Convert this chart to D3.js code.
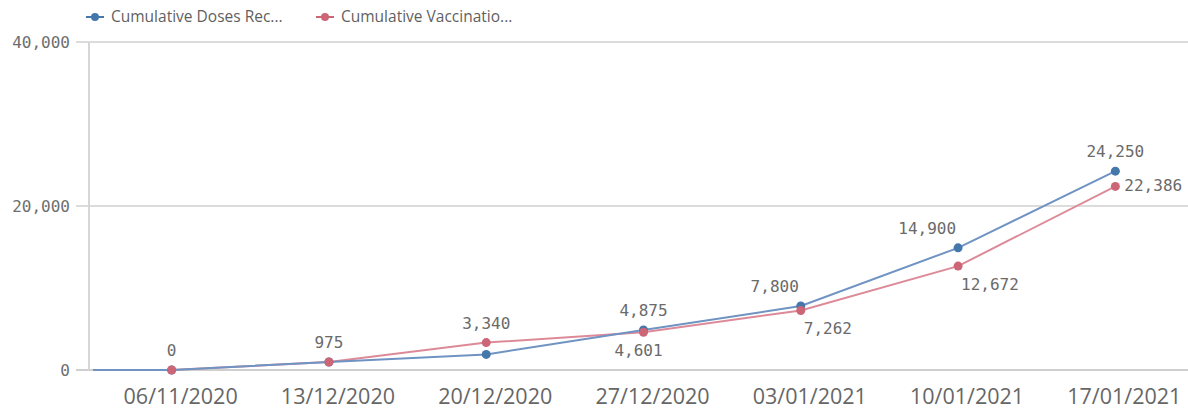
<!DOCTYPE html>
<html lang="en">
    <head>
        <title>Cumulative doses</title>
        <meta charset="UTF-8">
        <script src="https://cdn.jsdelivr.net/npm/d3@7"></script>
        <style>
        body{ margin:0; background:#fff; }
        .grid line{ stroke:#dcdcdc; stroke-width:2px; }
        .grid line.zero{ stroke:#cfcfcf; }
        .axis-y{ stroke:#d6d6d6; stroke-width:2px; }
        .ylab{ font-family:"DejaVu Sans Mono", monospace; font-size:16px; fill:#6e6e6e; }
        .xlab{ font-family:"Open Sans", sans-serif; font-size:21.5px; fill:#666; }
        .vlab{ font-family:"DejaVu Sans Mono", monospace; font-size:16px; fill:#6a6a6a; }
        .legend text{ font-family:"Open Sans", sans-serif; font-size:15.5px; fill:#5f5f5f; }
        .series{ fill:none; stroke-width:2px; }
        </style>
    </head>
    <body>
        <svg class="chart" width="1188" height="409"></svg>
    </body>

    <script>
        var dates = ['06/11/2020','13/12/2020','20/12/2020','27/12/2020','03/01/2021','10/01/2021','17/01/2021'];
        var dosesReceived = [0, 975, 1900, 4875, 7800, 14900, 24250];
        var vaccinations = [0, 975, 3340, 4601, 7262, 12672, 22386];
        var yTicks = [0, 20000, 40000];
        var legendNames = ['Cumulative Doses Rec...', 'Cumulative Vaccinatio...'];
        // where each value label sits next to its point (null = not shown)
        var receivedLabelAt = [null, null, null, 'above', 'aboveLeft', 'aboveLeft', 'above'];
        var vaccLabelAt = ['above', 'above', 'above', 'below', 'belowRight', 'belowRight', 'right'];

        (function draw(){
        var svg = d3.select('svg.chart');
        var plotLeft = 89, plotTop = 42, plotBottom = 370;

        var x = d3.scalePoint().domain(dates).range([93, 1194]).padding(0.5);
        var y = d3.scaleLinear().domain([0, 40000]).range([plotBottom, plotTop]);
        var fmt = d3.format(',');

        // grid
        svg.append('g').attr('class', 'grid')
            .selectAll('line').data(yTicks).enter()
            .append('line')
                .classed('zero', function(d){ return d === 0; })
                .attr('x1', plotLeft - 13).attr('x2', 1188)
                .attr('y1', function(d){ return y(d); })
                .attr('y2', function(d){ return y(d); });

        svg.append('line').attr('class', 'axis-y')
            .attr('x1', plotLeft).attr('x2', plotLeft)
            .attr('y1', y(40000)).attr('y2', y(0));

        svg.selectAll('text.ylab').data(yTicks).enter()
            .append('text').attr('class', 'ylab')
                .attr('x', plotLeft - 19)
                .attr('y', function(d){ return y(d); })
                .attr('dy', '0.35em')
                .attr('text-anchor', 'end')
                .text(function(d){ return fmt(d); });

        svg.selectAll('text.xlab').data(dates).enter()
            .append('text').attr('class', 'xlab')
                .attr('x', function(d){ return x(d) + 9; })
                .attr('y', 404)
                .attr('text-anchor', 'middle')
                .text(function(d){ return d; });

        var series = [
            {name: legendNames[0], values: dosesReceived, color: '#4477aa', line: '#6f93c2', labels: receivedLabelAt},
            {name: legendNames[1], values: vaccinations, color: '#cc6677', line: '#dd8a98', labels: vaccLabelAt}
        ];

        var line = d3.line()
            .x(function(d){ return d[0]; })
            .y(function(d){ return d[1]; });

        series.slice().reverse().forEach(function(s){
            var pts = s.values.map(function(v, i){ return [x(dates[i]), y(v)]; });
            pts.unshift([plotLeft + 4, y(s.values[0])]);
            svg.append('path').attr('class', 'series')
                .attr('stroke', s.line)
                .attr('d', line(pts));
        });

        series.forEach(function(s){
            svg.append('g').selectAll('circle').data(s.values).enter()
                .append('circle')
                    .attr('cx', function(d, i){ return x(dates[i]); })
                    .attr('cy', function(d){ return y(d); })
                    .attr('r', 4.5)
                    .attr('fill', s.color);
        });

        var offsets = {
            above:      {dx: 0,   dy: -14, anchor: 'middle'},
            below:      {dx: -5,  dy: 24,  anchor: 'middle'},
            aboveLeft:  {dx: -2,  dy: -14, anchor: 'end'},
            belowRight: {dx: 3,   dy: 24,  anchor: 'start'},
            right:      {dx: 9,   dy: 5,   anchor: 'start'}
        };

        series.forEach(function(s){
            s.values.forEach(function(v, i){
                var pos = s.labels[i];
                if (!pos) return;
                var o = offsets[pos];
                svg.append('text').attr('class', 'vlab')
                    .attr('x', x(dates[i]) + o.dx)
                    .attr('y', y(v) + o.dy)
                    .attr('text-anchor', o.anchor)
                    .text(fmt(v));
            });
        });

        // legend
        var legend = svg.append('g').attr('class', 'legend');
        var legendX = [86, 316];
        series.forEach(function(s, i){
            var g = legend.append('g').attr('transform', 'translate(' + legendX[i] + ',17)');
            g.append('line').attr('x1', 0).attr('x2', 18).attr('y1', 0).attr('y2', 0)
                .attr('stroke', s.color).attr('stroke-width', 2);
            g.append('circle').attr('cx', 9).attr('cy', 0).attr('r', 4).attr('fill', s.color);
            g.append('text').attr('x', 25).attr('y', 0).attr('dy', '0.35em').text(s.name);
        });
        })();
    </script>
</html>
